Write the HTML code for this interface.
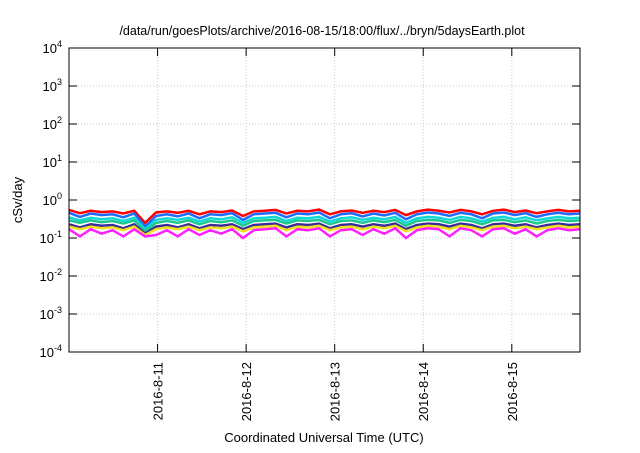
<!DOCTYPE html>
<html><head><meta charset="utf-8"><style>
body{margin:0;background:#fff;}
svg{font-family:"Liberation Sans",sans-serif;}
</style></head><body>
<svg id="c" width="640" height="448" xmlns="http://www.w3.org/2000/svg">
<text x="322" y="35" text-anchor="middle" font-size="12.5">/data/run/goesPlots/archive/2016-08-15/18:00/flux/../bryn/5daysEarth.plot</text>
<text x="0" y="0" transform="translate(22,200) rotate(-90)" text-anchor="middle" font-size="13">cSv/day</text>
<text x="324" y="442" text-anchor="middle" font-size="13">Coordinated Universal Time (UTC)</text>
<g id="grid"></g><g id="series"></g><g id="axes"></g>
</svg>
<script>
const yExps=[-4,-3,-2,-1,0,1,2,3,4];
const dayLabels=["2016-8-11","2016-8-12","2016-8-13","2016-8-14","2016-8-15"];
const dayPos=[1,2,3,4,5];
const colors=["#ff0000","#1e6cff","#10d8d8","#20c890","#3a2a9a","#f0e020","#ff20ff"];
const sRed=[0.55,0.45,0.52,0.48,0.50,0.44,0.52,0.25,0.47,0.50,0.46,0.52,0.42,0.50,0.48,0.53,0.38,0.50,0.52,0.55,0.44,0.52,0.50,0.56,0.42,0.50,0.53,0.46,0.52,0.48,0.55,0.40,0.50,0.56,0.52,0.47,0.55,0.50,0.42,0.52,0.56,0.48,0.53,0.45,0.50,0.55,0.50,0.52];
const sBlue=[0.46,0.36,0.44,0.40,0.42,0.35,0.44,0.20,0.38,0.42,0.37,0.44,0.33,0.42,0.40,0.45,0.30,0.42,0.44,0.46,0.35,0.44,0.42,0.47,0.33,0.42,0.45,0.37,0.44,0.39,0.46,0.31,0.42,0.47,0.44,0.38,0.46,0.42,0.33,0.44,0.47,0.40,0.45,0.36,0.42,0.46,0.42,0.44];
const sCyan=[0.35,0.29,0.34,0.31,0.33,0.28,0.34,0.17,0.30,0.33,0.30,0.34,0.27,0.33,0.31,0.35,0.25,0.33,0.34,0.36,0.28,0.34,0.33,0.36,0.27,0.33,0.35,0.30,0.34,0.31,0.36,0.25,0.33,0.36,0.34,0.30,0.36,0.33,0.27,0.34,0.36,0.31,0.35,0.29,0.33,0.36,0.33,0.34];
const sGreen=[0.29,0.25,0.29,0.26,0.28,0.24,0.29,0.15,0.25,0.28,0.25,0.29,0.23,0.28,0.26,0.29,0.21,0.28,0.29,0.30,0.24,0.29,0.28,0.30,0.23,0.28,0.29,0.25,0.29,0.26,0.30,0.21,0.28,0.30,0.29,0.25,0.30,0.28,0.23,0.29,0.30,0.26,0.29,0.24,0.28,0.30,0.28,0.29];
const sNavy=[0.23,0.19,0.23,0.21,0.22,0.18,0.23,0.13,0.20,0.22,0.19,0.23,0.18,0.22,0.21,0.23,0.17,0.22,0.23,0.24,0.19,0.23,0.22,0.24,0.18,0.22,0.23,0.20,0.23,0.21,0.24,0.17,0.22,0.24,0.23,0.20,0.24,0.22,0.18,0.23,0.24,0.21,0.23,0.19,0.22,0.24,0.22,0.23];
const sYellow=[0.20,0.17,0.20,0.18,0.19,0.16,0.20,0.12,0.17,0.19,0.17,0.20,0.16,0.19,0.18,0.20,0.15,0.19,0.20,0.21,0.16,0.20,0.19,0.21,0.16,0.19,0.20,0.17,0.20,0.18,0.21,0.15,0.19,0.21,0.20,0.17,0.21,0.19,0.16,0.20,0.21,0.18,0.20,0.17,0.19,0.21,0.19,0.20];
const sMag=[0.17,0.11,0.17,0.13,0.16,0.11,0.17,0.11,0.12,0.16,0.11,0.17,0.12,0.16,0.13,0.17,0.10,0.16,0.17,0.18,0.11,0.17,0.16,0.18,0.11,0.16,0.17,0.12,0.17,0.13,0.18,0.10,0.16,0.18,0.17,0.11,0.18,0.16,0.11,0.17,0.18,0.13,0.17,0.11,0.16,0.18,0.16,0.17];
const series=[sRed,sBlue,sCyan,sGreen,sNavy,sYellow,sMag];
const L=69,R=580,T=48,B=352,dMin=0,dMax=5.77;
const xs=d=>L+(d-dMin)/(dMax-dMin)*(R-L);
const ys=v=>B-(Math.log10(v)+4)/8*(B-T);
const ye=e=>B-(e+4)/8*(B-T);
const NS="http://www.w3.org/2000/svg";
function mk(t,a,p){const e=document.createElementNS(NS,t);for(const k in a)e.setAttribute(k,a[k]);document.getElementById(p).appendChild(e);return e;}
yExps.forEach(e=>{const y=ye(e);
 if(e>-4&&e<4){const g=mk('line',{x1:L,x2:R,y1:y,y2:y,stroke:'#ccc','stroke-dasharray':'1,2'},'grid');
 
 
 mk('line',{x1:L,x2:L+8,y1:y,y2:y,stroke:'#000'},'axes');mk('line',{x1:R-8,x2:R,y1:y,y2:y,stroke:'#000'},'axes');}
 const t=mk('text',{x:62,y:y+5,'text-anchor':'end','font-size':13},'axes');
 
 
 t.innerHTML='10<tspan dy="-6" font-size="9">'+e+'</tspan>';});
dayPos.forEach((d,i)=>{const x=xs(d);
 const g=mk('line',{x1:x,x2:x,y1:T,y2:B,stroke:'#ccc','stroke-dasharray':'1,2'},'grid');
 
 
 mk('line',{x1:x,x2:x,y1:B-8,y2:B,stroke:'#000'},'axes');mk('line',{x1:x,x2:x,y1:T,y2:T+8,stroke:'#000'},'axes');
 const t=mk('text',{transform:`translate(${x+5},362) rotate(-90)`,'text-anchor':'end','font-size':13},'axes');
 
 
 t.textContent=dayLabels[i];});
const fr=mk('rect',{x:L,y:T,width:R-L,height:B-T,fill:'none',stroke:'#000','stroke-width':1},'axes');


series.forEach((s,k)=>{const n=s.length;
 const pts=s.map((v,i)=>xs(dMin+i*(dMax-dMin)/(n-1)).toFixed(1)+','+ys(v).toFixed(1)).join(' ');
 const p=mk('polyline',{points:pts,fill:'none',stroke:colors[k],'stroke-width':2.5},'series');
 
 });
</script>
</body></html>
